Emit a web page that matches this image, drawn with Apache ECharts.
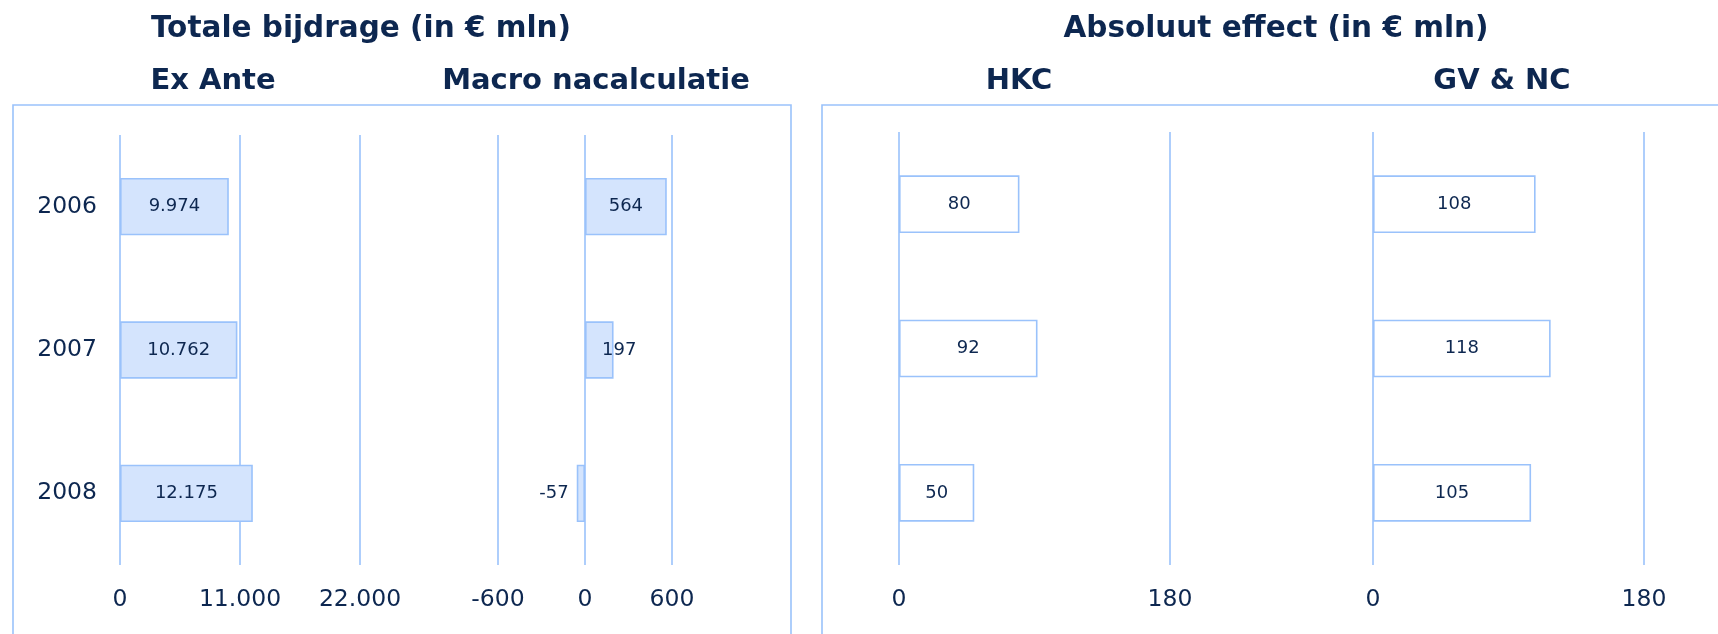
<!DOCTYPE html>
<html>
<head>
<meta charset="utf-8">
<script src="https://cdn.jsdelivr.net/npm/echarts@6/dist/echarts.min.js"></script>
<style>
html,body{margin:0;padding:0;background:#fff;}
#c{width:1718px;height:634px;}
</style>
</head>
<body>
<div id="c"></div>
<script>
// ---- data ----
var years = ['2006', '2007', '2008'];
var exAnte = [9974, 10762, 12175];
var macroNacalculatie = [564, 197, -57];
var hkc = [80, 92, 50];
var gvNc = [108, 118, 105];
var titles = ['Totale bijdrage (in € mln)', 'Absoluut effect (in € mln)'];
var panelTitles = ['Ex Ante', 'Macro nacalculatie', 'HKC', 'GV & NC'];

// ---- style ----
var FONT = 'DejaVu Sans';
var TXT = '#0d2750';
var LINE = '#9ac2fb';
var FILL = '#d4e4fd';

function fmt(v) {
  var s = Math.abs(v).toString().replace(/\B(?=(\d{3})+(?!\d))/g, '.');
  return (v < 0 ? '-' : '') + s;
}

var chart = echarts.init(document.getElementById('c'), null, {renderer: 'canvas'});

var grids = [
  {left: 120, width: 240, top: 135, height: 430},
  {left: 498, width: 174, top: 135, height: 430},
  {left: 899, width: 271, top: 132, height: 433},
  {left: 1373, width: 271, top: 132, height: 433}
];
var ranges = [
  {min: 0, max: 22000, interval: 11000},
  {min: -600, max: 600, interval: 600},
  {min: 0, max: 180, interval: 180},
  {min: 0, max: 180, interval: 180}
];

var xAxes = ranges.map(function (r, i) {
  return {
    type: 'value', gridIndex: i, min: r.min, max: r.max, interval: r.interval,
    axisLine: {show: false}, axisTick: {show: false},
    splitLine: {show: true, lineStyle: {color: LINE, width: 1.6}},
    axisLabel: {
      color: TXT, fontFamily: FONT, fontSize: 23.5, margin: 23,
      formatter: function (v) { return fmt(v); }
    }
  };
});
var yAxes = grids.map(function (g, i) {
  return {
    type: 'category', gridIndex: i, data: years, inverse: true,
    axisLine: {show: false}, axisTick: {show: false}, splitLine: {show: false},
    axisLabel: {show: i === 0, color: TXT, fontFamily: FONT, fontSize: 23.5, margin: 23}
  };
});

function makeSeries(idx, values, fill, scaleSpan) {
  return {
    type: 'bar', xAxisIndex: idx, yAxisIndex: idx, barWidth: '40%',
    itemStyle: {color: fill, borderColor: LINE, borderWidth: 1.6},
    label: {
      show: true, position: 'inside', color: TXT, fontFamily: FONT, fontSize: 18,
      formatter: function (p) { return fmt(p.value); }
    },
    data: values.map(function (v) {
      var item = {value: v};
      if (v < 0) {
        item.label = {position: 'left', distance: 8};
      } else if (v / scaleSpan < 0.25) {
        item.label = {position: 'insideLeft', distance: 17};
      }
      return item;
    })
  };
}

var series = [
  makeSeries(0, exAnte, FILL, 22000),
  makeSeries(1, macroNacalculatie, FILL, 1200),
  makeSeries(2, hkc, '#ffffff', 180),
  makeSeries(3, gvNc, '#ffffff', 180)
];

var titleCenters = [[361, 29], [1276, 29]];
var panelCenters = [[213, 81], [596, 81], [1019, 81], [1502, 81]];

var graphics = [
  {type: 'rect', z: -1, shape: {x: 13, y: 105, width: 778, height: 600},
    style: {fill: 'none', stroke: LINE, lineWidth: 1.6}},
  {type: 'rect', z: -1, shape: {x: 822, y: 105, width: 1000, height: 600},
    style: {fill: 'none', stroke: LINE, lineWidth: 1.6}}
];
titles.forEach(function (t, i) {
  graphics.push({type: 'text', x: titleCenters[i][0], y: titleCenters[i][1],
    style: {text: t, fill: TXT, font: 'bold 29.5px "' + FONT + '"', textAlign: 'center', textVerticalAlign: 'middle'}});
});
panelTitles.forEach(function (t, i) {
  graphics.push({type: 'text', x: panelCenters[i][0], y: panelCenters[i][1],
    style: {text: t, fill: TXT, font: 'bold 29px "' + FONT + '"', textAlign: 'center', textVerticalAlign: 'middle'}});
});

chart.setOption({
  animation: false,
  backgroundColor: '#ffffff',
  grid: grids,
  xAxis: xAxes,
  yAxis: yAxes,
  series: series,
  graphic: graphics
});
</script>
</body>
</html>
